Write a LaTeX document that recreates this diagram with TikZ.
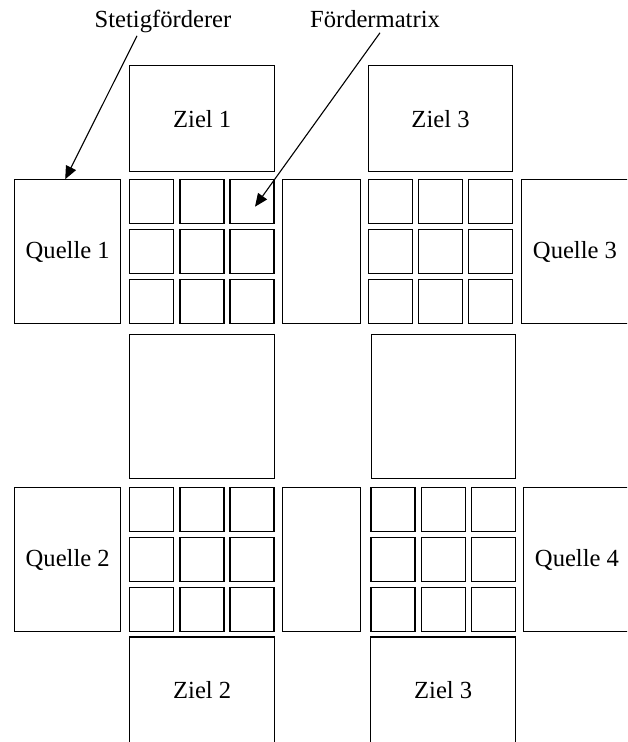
\documentclass[tikz,border=0pt]{standalone}
\usepackage{fontspec}
\setmainfont{Liberation Serif}
\usetikzlibrary{arrows.meta,calc}

\tikzset{
  feld/.style={draw, line width=1.2pt, inner sep=0pt},
  zelle/.style={feld, minimum width=44pt, minimum height=44pt},
  hinweis/.style={line width=1.1pt, -{Triangle[length=13pt,width=11pt]}},
}

\begin{document}
\begin{tikzpicture}[x=1pt,y=-1pt,font=\fontsize{24.6}{29}\selectfont]
\path[use as bounding box,clip] (0,0) rectangle (627,742);

% Ziele und Quellen
\node[feld,minimum width=144.7pt,minimum height=106.3pt] (z1) at (202.2,118.7) {Ziel 1};
\node[feld,minimum width=144.6pt,minimum height=106.3pt] (z3o) at (440.5,118.7) {Ziel 3};
\node[feld,minimum width=106.3pt,minimum height=144pt] (q1) at (67.7,251.8) {Quelle 1};
\node[feld,minimum width=106.3pt,minimum height=144pt] (q3) at (575,251.8) {Quelle 3};
\node[feld,minimum width=106.3pt,minimum height=144.6pt] (q2) at (67.7,559.5) {Quelle 2};
\node[feld,minimum width=106.3pt,minimum height=144.6pt] (q4) at (577,559.5) {Quelle 4};
\node[feld,minimum width=144.7pt,minimum height=106pt] (z2) at (202.2,690) {Ziel 2};
\node[feld,minimum width=145.3pt,minimum height=106pt] (z3u) at (443.2,690) {Ziel 3};

% Stetigfoerderer ohne Beschriftung
\node[feld,minimum width=77.7pt,minimum height=144pt] (s1) at (321.7,251.8) {};
\node[feld,minimum width=77.7pt,minimum height=144.6pt] (s2) at (321.7,559.5) {};
\node[feld,minimum width=144.7pt,minimum height=144.3pt] (s3) at (202.2,406.7) {};
\node[feld,minimum width=144.3pt,minimum height=144.3pt] (s4) at (443.3,406.7) {};

% Foerdermatrizen, je 3x3 Felder
\foreach \g/\x/\y in {1/151.8/201.7, 2/390.3/201.7, 3/151.8/509.3, 4/393/509.3}
  \foreach \r in {1,2,3}
    \foreach \c in {1,2,3}
      \node[zelle] (m\g-\r-\c) at ({\x+50.1*(\c-1)},{\y+50*(\r-1)}) {};

% Beschriftungen mit Pfeilen
\node[anchor=base] (st) at (163,27) {Stetigförderer};
\node[anchor=base] (fm) at (375,27) {Fördermatrix};
\draw[hinweis] ([xshift=-26pt]st.south) -- ([xshift=-2.5pt]q1.north);
\draw[hinweis] ([xshift=5pt,yshift=-2pt]fm.south) -- ($(m1-1-3.center)+(3,5)$);
\end{tikzpicture}
\end{document}
